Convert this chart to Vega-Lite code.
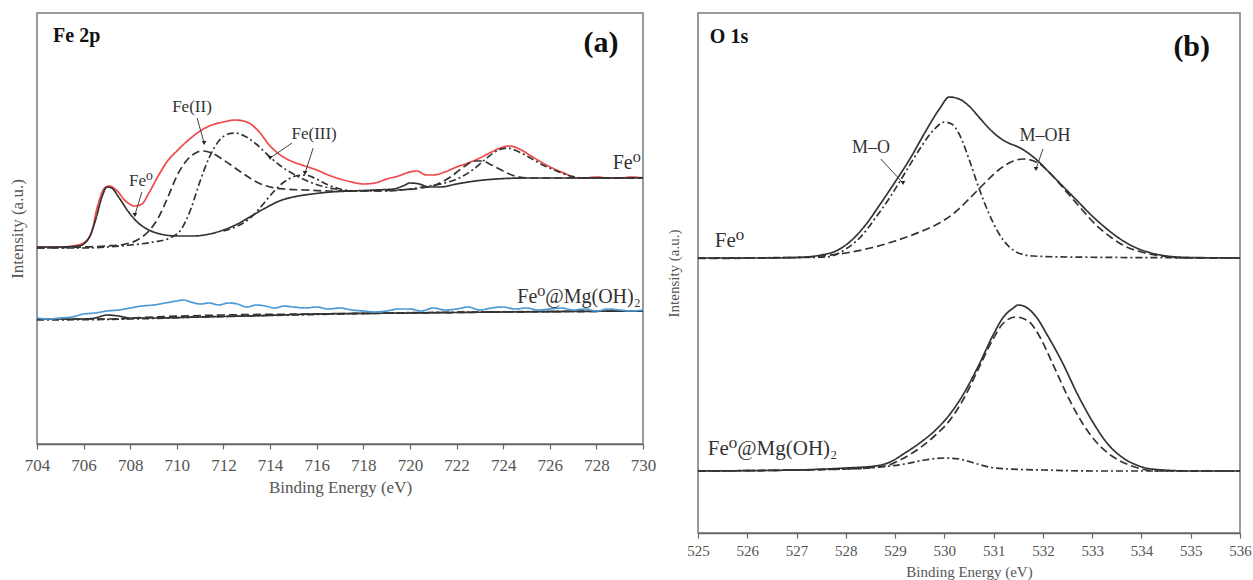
{
  "$schema": "https://vega.github.io/schema/vega-lite/v6.json",
  "padding": {"left": 7, "top": 12, "right": 5, "bottom": 0},
  "bounds": "flush",
  "spacing": 55,
  "config": {
    "font": "Liberation Serif, DejaVu Serif, serif",
    "view": {"stroke": "#7a7a7a", "strokeWidth": 1.5},
    "text": {"font": "Liberation Serif, DejaVu Serif, serif"},
    "axis": {"grid": false, "labelFont": "Liberation Serif, serif", "titleFont": "Liberation Serif, serif", "labelColor": "#555555", "titleColor": "#555555", "titleFontWeight": "normal", "domainColor": "#666666", "tickColor": "#666666", "domainWidth": 1.5, "tickWidth": 1.2}
  },
  "datasets": {
    "a_lines": [
      {"s":"ru","t":"red","x":704,"v":197},{"s":"ru","t":"red","x":705,"v":197},{"s":"ru","t":"red","x":705.5,"v":198},{"s":"ru","t":"red","x":705.9,"v":200},{"s":"ru","t":"red","x":706.3,"v":209},{"s":"ru","t":"red","x":706.6,"v":238},{"s":"ru","t":"red","x":706.9,"v":256},{"s":"ru","t":"red","x":707.1,"v":258},{"s":"ru","t":"red","x":707.4,"v":254},{"s":"ru","t":"red","x":707.8,"v":243},{"s":"ru","t":"red","x":708.2,"v":238},{"s":"ru","t":"red","x":708.5,"v":240},{"s":"ru","t":"red","x":708.8,"v":251},{"s":"ru","t":"red","x":709.2,"v":268},{"s":"ru","t":"red","x":709.6,"v":283},{"s":"ru","t":"red","x":710,"v":293},{"s":"ru","t":"red","x":710.5,"v":304},{"s":"ru","t":"red","x":711,"v":313},{"s":"ru","t":"red","x":711.5,"v":319},{"s":"ru","t":"red","x":712,"v":322},{"s":"ru","t":"red","x":712.5,"v":324},{"s":"ru","t":"red","x":713,"v":322},{"s":"ru","t":"red","x":713.5,"v":313},{"s":"ru","t":"red","x":714,"v":298},{"s":"ru","t":"red","x":714.5,"v":288},{"s":"ru","t":"red","x":715,"v":282},{"s":"ru","t":"red","x":715.5,"v":278},{"s":"ru","t":"red","x":716,"v":274},{"s":"ru","t":"red","x":716.5,"v":269},{"s":"ru","t":"red","x":717,"v":265},{"s":"ru","t":"red","x":717.5,"v":262},{"s":"ru","t":"red","x":718,"v":260},{"s":"ru","t":"red","x":718.5,"v":261},{"s":"ru","t":"red","x":719,"v":265},{"s":"ru","t":"red","x":719.5,"v":268},{"s":"ru","t":"red","x":720,"v":272},{"s":"ru","t":"red","x":720.3,"v":273},{"s":"ru","t":"red","x":720.7,"v":269},{"s":"ru","t":"red","x":721,"v":269},{"s":"ru","t":"red","x":721.5,"v":272},{"s":"ru","t":"red","x":722,"v":277},{"s":"ru","t":"red","x":722.5,"v":281},{"s":"ru","t":"red","x":723,"v":286},{"s":"ru","t":"red","x":723.5,"v":292},{"s":"ru","t":"red","x":724,"v":297},{"s":"ru","t":"red","x":724.3,"v":298},{"s":"ru","t":"red","x":724.7,"v":295},{"s":"ru","t":"red","x":725.2,"v":288},{"s":"ru","t":"red","x":725.7,"v":281},{"s":"ru","t":"red","x":726.2,"v":275},{"s":"ru","t":"red","x":726.7,"v":270},{"s":"ru","t":"red","x":727.1,"v":266},{"s":"ru","t":"red","x":727.5,"v":266},{"s":"ru","t":"red","x":728,"v":267},{"s":"ru","t":"red","x":728.5,"v":266},{"s":"ru","t":"red","x":729,"v":266},{"s":"ru","t":"red","x":729.5,"v":267},{"s":"ru","t":"red","x":730,"v":266},

      {"s":"su","t":"solid","x":704,"v":197},{"s":"su","t":"solid","x":705,"v":197},{"s":"su","t":"solid","x":705.8,"v":198},{"s":"su","t":"solid","x":706.2,"v":205},{"s":"su","t":"solid","x":706.5,"v":223},{"s":"su","t":"solid","x":706.8,"v":248},{"s":"su","t":"solid","x":707,"v":257},{"s":"su","t":"solid","x":707.2,"v":256},{"s":"su","t":"solid","x":707.5,"v":247},{"s":"su","t":"solid","x":707.9,"v":233},{"s":"su","t":"solid","x":708.3,"v":222},{"s":"su","t":"solid","x":708.8,"v":214},{"s":"su","t":"solid","x":709.3,"v":210},{"s":"su","t":"solid","x":710,"v":208},{"s":"su","t":"solid","x":710.7,"v":208},{"s":"su","t":"solid","x":711.4,"v":210},{"s":"su","t":"solid","x":712,"v":214},{"s":"su","t":"solid","x":712.6,"v":220},{"s":"su","t":"solid","x":713.2,"v":228},{"s":"su","t":"solid","x":713.8,"v":236},{"s":"su","t":"solid","x":714.4,"v":243},{"s":"su","t":"solid","x":715,"v":247},{"s":"su","t":"solid","x":715.8,"v":250},{"s":"su","t":"solid","x":716.6,"v":252},{"s":"su","t":"solid","x":717.5,"v":253},{"s":"su","t":"solid","x":718.5,"v":254},{"s":"su","t":"solid","x":719.3,"v":255},{"s":"su","t":"solid","x":719.7,"v":258},{"s":"su","t":"solid","x":720,"v":261},{"s":"su","t":"solid","x":720.4,"v":260},{"s":"su","t":"solid","x":720.8,"v":257},{"s":"su","t":"solid","x":721.3,"v":257},{"s":"su","t":"solid","x":722,"v":260},{"s":"su","t":"solid","x":722.8,"v":263},{"s":"su","t":"solid","x":723.7,"v":265},{"s":"su","t":"solid","x":725,"v":266},{"s":"su","t":"solid","x":730,"v":266},

      {"s":"du","t":"dash","x":704,"v":196},{"s":"du","t":"dash","x":706,"v":197},{"s":"du","t":"dash","x":707,"v":198},{"s":"du","t":"dash","x":707.8,"v":200},{"s":"du","t":"dash","x":708.3,"v":204},{"s":"du","t":"dash","x":708.8,"v":213},{"s":"du","t":"dash","x":709.2,"v":226},{"s":"du","t":"dash","x":709.6,"v":246},{"s":"du","t":"dash","x":710,"v":268},{"s":"du","t":"dash","x":710.4,"v":283},{"s":"du","t":"dash","x":710.8,"v":291},{"s":"du","t":"dash","x":711.1,"v":293},{"s":"du","t":"dash","x":711.5,"v":291},{"s":"du","t":"dash","x":712,"v":284},{"s":"du","t":"dash","x":712.5,"v":276},{"s":"du","t":"dash","x":713,"v":268},{"s":"du","t":"dash","x":713.5,"v":261},{"s":"du","t":"dash","x":714,"v":257},{"s":"du","t":"dash","x":714.6,"v":255},{"s":"du","t":"dash","x":715.5,"v":254},{"s":"du","t":"dash","x":716.5,"v":253},{"s":"du","t":"dash","x":718,"v":253},{"s":"du","t":"dash","x":719.5,"v":254},{"s":"du","t":"dash","x":720.5,"v":256},{"s":"du","t":"dash","x":721.2,"v":260},{"s":"du","t":"dash","x":721.8,"v":268},{"s":"du","t":"dash","x":722.3,"v":277},{"s":"du","t":"dash","x":722.8,"v":283},{"s":"du","t":"dash","x":723.1,"v":283},{"s":"du","t":"dash","x":723.5,"v":279},{"s":"du","t":"dash","x":724,"v":273},{"s":"du","t":"dash","x":724.5,"v":268},{"s":"du","t":"dash","x":725.2,"v":266},{"s":"du","t":"dash","x":730,"v":266},

      {"s":"ddu","t":"dashdot","x":704,"v":196},{"s":"ddu","t":"dashdot","x":706,"v":196},{"s":"ddu","t":"dashdot","x":707,"v":197},{"s":"ddu","t":"dashdot","x":708,"v":199},{"s":"ddu","t":"dashdot","x":709,"v":202},{"s":"ddu","t":"dashdot","x":709.7,"v":206},{"s":"ddu","t":"dashdot","x":710.2,"v":215},{"s":"ddu","t":"dashdot","x":710.6,"v":235},{"s":"ddu","t":"dashdot","x":711,"v":263},{"s":"ddu","t":"dashdot","x":711.4,"v":287},{"s":"ddu","t":"dashdot","x":711.8,"v":303},{"s":"ddu","t":"dashdot","x":712.2,"v":310},{"s":"ddu","t":"dashdot","x":712.5,"v":311},{"s":"ddu","t":"dashdot","x":712.9,"v":308},{"s":"ddu","t":"dashdot","x":713.4,"v":300},{"s":"ddu","t":"dashdot","x":713.9,"v":289},{"s":"ddu","t":"dashdot","x":714.4,"v":279},{"s":"ddu","t":"dashdot","x":715,"v":270},{"s":"ddu","t":"dashdot","x":715.6,"v":263},{"s":"ddu","t":"dashdot","x":716.2,"v":258},{"s":"ddu","t":"dashdot","x":716.8,"v":255},{"s":"ddu","t":"dashdot","x":717.5,"v":253},{"s":"ddu","t":"dashdot","x":719,"v":253},{"s":"ddu","t":"dashdot","x":720,"v":255},{"s":"ddu","t":"dashdot","x":720.8,"v":258},{"s":"ddu","t":"dashdot","x":721.5,"v":261},{"s":"ddu","t":"dashdot","x":722.2,"v":267},{"s":"ddu","t":"dashdot","x":722.8,"v":276},{"s":"ddu","t":"dashdot","x":723.3,"v":286},{"s":"ddu","t":"dashdot","x":723.8,"v":294},{"s":"ddu","t":"dashdot","x":724.2,"v":296},{"s":"ddu","t":"dashdot","x":724.6,"v":293},{"s":"ddu","t":"dashdot","x":725.1,"v":287},{"s":"ddu","t":"dashdot","x":725.7,"v":279},{"s":"ddu","t":"dashdot","x":726.3,"v":273},{"s":"ddu","t":"dashdot","x":726.9,"v":268},{"s":"ddu","t":"dashdot","x":727.4,"v":266},{"s":"ddu","t":"dashdot","x":730,"v":266},

      {"s":"sat","t":"dashdot","x":712,"v":213},{"s":"sat","t":"dashdot","x":712.6,"v":218},{"s":"sat","t":"dashdot","x":713.1,"v":225},{"s":"sat","t":"dashdot","x":713.6,"v":237},{"s":"sat","t":"dashdot","x":714.1,"v":251},{"s":"sat","t":"dashdot","x":714.6,"v":262},{"s":"sat","t":"dashdot","x":715.1,"v":268},{"s":"sat","t":"dashdot","x":715.5,"v":269},{"s":"sat","t":"dashdot","x":715.9,"v":266},{"s":"sat","t":"dashdot","x":716.4,"v":260},{"s":"sat","t":"dashdot","x":717,"v":255},{"s":"sat","t":"dashdot","x":717.6,"v":253},

      {"s":"sl","t":"solid","x":704,"v":125},{"s":"sl","t":"solid","x":706,"v":125},{"s":"sl","t":"solid","x":706.5,"v":126},{"s":"sl","t":"solid","x":707,"v":129},{"s":"sl","t":"solid","x":707.5,"v":128},{"s":"sl","t":"solid","x":708,"v":126},{"s":"sl","t":"solid","x":709,"v":126},{"s":"sl","t":"solid","x":711,"v":127},{"s":"sl","t":"solid","x":713,"v":128},{"s":"sl","t":"solid","x":716,"v":130},{"s":"sl","t":"solid","x":720,"v":131},{"s":"sl","t":"solid","x":724,"v":132},{"s":"sl","t":"solid","x":730,"v":133},
      {"s":"dl","t":"dash","x":704,"v":125},{"s":"dl","t":"dash","x":707,"v":125},{"s":"dl","t":"dash","x":709,"v":127},{"s":"dl","t":"dash","x":712,"v":129},{"s":"dl","t":"dash","x":716,"v":130},{"s":"dl","t":"dash","x":720,"v":131},{"s":"dl","t":"dash","x":724,"v":132},{"s":"dl","t":"dash","x":730,"v":133},
      {"s":"ddl","t":"dashdot","x":704,"v":124},{"s":"ddl","t":"dashdot","x":708,"v":125},{"s":"ddl","t":"dashdot","x":711,"v":127},{"s":"ddl","t":"dashdot","x":715,"v":129},{"s":"ddl","t":"dashdot","x":719,"v":131},{"s":"ddl","t":"dashdot","x":723,"v":132},{"s":"ddl","t":"dashdot","x":730,"v":133},

      {"s":"bl","t":"blue","x":704,"v":126},{"s":"bl","t":"blue","x":704.5,"v":125},{"s":"bl","t":"blue","x":705,"v":126},{"s":"bl","t":"blue","x":705.5,"v":127},{"s":"bl","t":"blue","x":706,"v":130},{"s":"bl","t":"blue","x":706.5,"v":131},{"s":"bl","t":"blue","x":707,"v":133},{"s":"bl","t":"blue","x":707.5,"v":134},{"s":"bl","t":"blue","x":708,"v":136},{"s":"bl","t":"blue","x":708.5,"v":138},{"s":"bl","t":"blue","x":709,"v":139},{"s":"bl","t":"blue","x":709.5,"v":141},{"s":"bl","t":"blue","x":710,"v":143},{"s":"bl","t":"blue","x":710.3,"v":144},{"s":"bl","t":"blue","x":710.6,"v":142},{"s":"bl","t":"blue","x":711,"v":140},{"s":"bl","t":"blue","x":711.4,"v":141},{"s":"bl","t":"blue","x":711.8,"v":139},{"s":"bl","t":"blue","x":712.2,"v":141},{"s":"bl","t":"blue","x":712.6,"v":140},{"s":"bl","t":"blue","x":713,"v":137},{"s":"bl","t":"blue","x":713.4,"v":139},{"s":"bl","t":"blue","x":713.8,"v":138},{"s":"bl","t":"blue","x":714.2,"v":136},{"s":"bl","t":"blue","x":714.6,"v":138},{"s":"bl","t":"blue","x":715,"v":137},{"s":"bl","t":"blue","x":715.5,"v":136},{"s":"bl","t":"blue","x":716,"v":137},{"s":"bl","t":"blue","x":716.5,"v":135},{"s":"bl","t":"blue","x":717,"v":136},{"s":"bl","t":"blue","x":717.5,"v":134},{"s":"bl","t":"blue","x":718,"v":133},{"s":"bl","t":"blue","x":718.5,"v":132},{"s":"bl","t":"blue","x":719,"v":133},{"s":"bl","t":"blue","x":719.5,"v":135},{"s":"bl","t":"blue","x":720,"v":135},{"s":"bl","t":"blue","x":720.5,"v":133},{"s":"bl","t":"blue","x":721,"v":136},{"s":"bl","t":"blue","x":721.5,"v":134},{"s":"bl","t":"blue","x":722,"v":135},{"s":"bl","t":"blue","x":722.5,"v":137},{"s":"bl","t":"blue","x":723,"v":134},{"s":"bl","t":"blue","x":723.5,"v":136},{"s":"bl","t":"blue","x":724,"v":137},{"s":"bl","t":"blue","x":724.5,"v":135},{"s":"bl","t":"blue","x":725,"v":136},{"s":"bl","t":"blue","x":725.5,"v":134},{"s":"bl","t":"blue","x":726,"v":135},{"s":"bl","t":"blue","x":726.5,"v":136},{"s":"bl","t":"blue","x":727,"v":134},{"s":"bl","t":"blue","x":727.5,"v":135},{"s":"bl","t":"blue","x":728,"v":133},{"s":"bl","t":"blue","x":728.5,"v":135},{"s":"bl","t":"blue","x":729,"v":134},{"s":"bl","t":"blue","x":729.5,"v":133},{"s":"bl","t":"blue","x":730,"v":134}
    ],
    "b_lines": [
      {"s":"su","t":"solid","x":525,"v":275},{"s":"su","t":"solid","x":526,"v":275},{"s":"su","t":"solid","x":527,"v":275.5},{"s":"su","t":"solid","x":527.5,"v":278},{"s":"su","t":"solid","x":527.8,"v":282},{"s":"su","t":"solid","x":528.1,"v":292},{"s":"su","t":"solid","x":528.4,"v":308},{"s":"su","t":"solid","x":528.7,"v":329},{"s":"su","t":"solid","x":529,"v":351},{"s":"su","t":"solid","x":529.3,"v":374},{"s":"su","t":"solid","x":529.6,"v":400},{"s":"su","t":"solid","x":529.9,"v":424},{"s":"su","t":"solid","x":530.1,"v":436},{"s":"su","t":"solid","x":530.3,"v":434},{"s":"su","t":"solid","x":530.5,"v":427},{"s":"su","t":"solid","x":530.7,"v":416},{"s":"su","t":"solid","x":530.9,"v":405},{"s":"su","t":"solid","x":531.1,"v":396},{"s":"su","t":"solid","x":531.3,"v":390},{"s":"su","t":"solid","x":531.5,"v":386},{"s":"su","t":"solid","x":531.7,"v":380},{"s":"su","t":"solid","x":531.9,"v":372},{"s":"su","t":"solid","x":532.1,"v":362},{"s":"su","t":"solid","x":532.4,"v":347},{"s":"su","t":"solid","x":532.7,"v":332},{"s":"su","t":"solid","x":533,"v":317},{"s":"su","t":"solid","x":533.3,"v":304},{"s":"su","t":"solid","x":533.6,"v":293},{"s":"su","t":"solid","x":533.9,"v":285},{"s":"su","t":"solid","x":534.2,"v":280},{"s":"su","t":"solid","x":534.6,"v":276.5},{"s":"su","t":"solid","x":535,"v":275.5},{"s":"su","t":"solid","x":536,"v":275},

      {"s":"mo","t":"dashdot","x":525,"v":275},{"s":"mo","t":"dashdot","x":527,"v":275.5},{"s":"mo","t":"dashdot","x":527.6,"v":276},{"s":"mo","t":"dashdot","x":528,"v":284},{"s":"mo","t":"dashdot","x":528.3,"v":296},{"s":"mo","t":"dashdot","x":528.6,"v":315},{"s":"mo","t":"dashdot","x":528.9,"v":336},{"s":"mo","t":"dashdot","x":529.2,"v":360},{"s":"mo","t":"dashdot","x":529.5,"v":384},{"s":"mo","t":"dashdot","x":529.8,"v":404},{"s":"mo","t":"dashdot","x":530,"v":411},{"s":"mo","t":"dashdot","x":530.15,"v":409},{"s":"mo","t":"dashdot","x":530.3,"v":399},{"s":"mo","t":"dashdot","x":530.5,"v":374},{"s":"mo","t":"dashdot","x":530.7,"v":345},{"s":"mo","t":"dashdot","x":530.9,"v":320},{"s":"mo","t":"dashdot","x":531.1,"v":300},{"s":"mo","t":"dashdot","x":531.3,"v":287},{"s":"mo","t":"dashdot","x":531.5,"v":280},{"s":"mo","t":"dashdot","x":531.8,"v":277},{"s":"mo","t":"dashdot","x":532.5,"v":276},{"s":"mo","t":"dashdot","x":536,"v":275},

      {"s":"moh","t":"dash","x":525,"v":274.5},{"s":"moh","t":"dash","x":527,"v":275.5},{"s":"moh","t":"dash","x":527.5,"v":277},{"s":"moh","t":"dash","x":528,"v":280},{"s":"moh","t":"dash","x":528.5,"v":285},{"s":"moh","t":"dash","x":529,"v":292},{"s":"moh","t":"dash","x":529.5,"v":301},{"s":"moh","t":"dash","x":529.9,"v":310},{"s":"moh","t":"dash","x":530.2,"v":320},{"s":"moh","t":"dash","x":530.5,"v":334},{"s":"moh","t":"dash","x":530.8,"v":349},{"s":"moh","t":"dash","x":531.1,"v":363},{"s":"moh","t":"dash","x":531.4,"v":372},{"s":"moh","t":"dash","x":531.6,"v":374},{"s":"moh","t":"dash","x":531.9,"v":370},{"s":"moh","t":"dash","x":532.2,"v":357},{"s":"moh","t":"dash","x":532.5,"v":340},{"s":"moh","t":"dash","x":532.8,"v":323},{"s":"moh","t":"dash","x":533.1,"v":307},{"s":"moh","t":"dash","x":533.4,"v":295},{"s":"moh","t":"dash","x":533.7,"v":286},{"s":"moh","t":"dash","x":534,"v":281},{"s":"moh","t":"dash","x":534.4,"v":277},{"s":"moh","t":"dash","x":535,"v":275},{"s":"moh","t":"dash","x":536,"v":275},

      {"s":"sl","t":"solid","x":525,"v":62},{"s":"sl","t":"solid","x":527,"v":63},{"s":"sl","t":"solid","x":528,"v":65},{"s":"sl","t":"solid","x":528.6,"v":67},{"s":"sl","t":"solid","x":528.9,"v":71},{"s":"sl","t":"solid","x":529.2,"v":80},{"s":"sl","t":"solid","x":529.5,"v":90},{"s":"sl","t":"solid","x":529.8,"v":102},{"s":"sl","t":"solid","x":530.1,"v":118},{"s":"sl","t":"solid","x":530.4,"v":140},{"s":"sl","t":"solid","x":530.7,"v":168},{"s":"sl","t":"solid","x":531,"v":199},{"s":"sl","t":"solid","x":531.2,"v":216},{"s":"sl","t":"solid","x":531.4,"v":225},{"s":"sl","t":"solid","x":531.5,"v":228},{"s":"sl","t":"solid","x":531.65,"v":226},{"s":"sl","t":"solid","x":531.85,"v":217},{"s":"sl","t":"solid","x":532.1,"v":197},{"s":"sl","t":"solid","x":532.4,"v":170},{"s":"sl","t":"solid","x":532.7,"v":139},{"s":"sl","t":"solid","x":533,"v":112},{"s":"sl","t":"solid","x":533.3,"v":90},{"s":"sl","t":"solid","x":533.6,"v":76},{"s":"sl","t":"solid","x":533.9,"v":68},{"s":"sl","t":"solid","x":534.2,"v":64},{"s":"sl","t":"solid","x":535,"v":62},{"s":"sl","t":"solid","x":536,"v":62},

      {"s":"dl","t":"dash","x":525,"v":62},{"s":"dl","t":"dash","x":528,"v":64},{"s":"dl","t":"dash","x":528.8,"v":67},{"s":"dl","t":"dash","x":529.1,"v":73},{"s":"dl","t":"dash","x":529.5,"v":85},{"s":"dl","t":"dash","x":529.8,"v":97},{"s":"dl","t":"dash","x":530.1,"v":112},{"s":"dl","t":"dash","x":530.4,"v":135},{"s":"dl","t":"dash","x":530.7,"v":165},{"s":"dl","t":"dash","x":531,"v":195},{"s":"dl","t":"dash","x":531.2,"v":210},{"s":"dl","t":"dash","x":531.45,"v":216},{"s":"dl","t":"dash","x":531.7,"v":212},{"s":"dl","t":"dash","x":531.95,"v":195},{"s":"dl","t":"dash","x":532.2,"v":169},{"s":"dl","t":"dash","x":532.5,"v":137},{"s":"dl","t":"dash","x":532.8,"v":110},{"s":"dl","t":"dash","x":533.1,"v":90},{"s":"dl","t":"dash","x":533.4,"v":77},{"s":"dl","t":"dash","x":533.7,"v":69},{"s":"dl","t":"dash","x":534,"v":64},{"s":"dl","t":"dash","x":534.3,"v":62},{"s":"dl","t":"dash","x":536,"v":62},

      {"s":"ddl","t":"dashdot","x":525,"v":62},{"s":"ddl","t":"dashdot","x":528,"v":64},{"s":"ddl","t":"dashdot","x":528.7,"v":66},{"s":"ddl","t":"dashdot","x":529.2,"v":69},{"s":"ddl","t":"dashdot","x":529.6,"v":73},{"s":"ddl","t":"dashdot","x":530,"v":75},{"s":"ddl","t":"dashdot","x":530.3,"v":74},{"s":"ddl","t":"dashdot","x":530.6,"v":70},{"s":"ddl","t":"dashdot","x":530.9,"v":66},{"s":"ddl","t":"dashdot","x":531.3,"v":64},{"s":"ddl","t":"dashdot","x":532,"v":63},{"s":"ddl","t":"dashdot","x":533,"v":62},{"s":"ddl","t":"dashdot","x":536,"v":62}
    ],
    "labels": [
      {"p":"a","k":"head","label":"Fe 2p","x":704.69,"v":408},
      {"p":"a","k":"letter","label":"(a)","x":728.2,"v":401},
      {"p":"a","k":"center","label":"Fe(II)","x":710.65,"v":337},
      {"p":"a","k":"center","label":"Fe(III)","x":715.89,"v":310},
      {"p":"a","k":"center","label":"Fe⁰","x":708.46,"v":263},
      {"p":"a","k":"right","label":"Fe⁰","x":729.9,"v":281},
      {"p":"a","k":"right","label":"Fe⁰@Mg(OH)₂","x":729.9,"v":147},
      {"p":"b","k":"head","label":"O 1s","x":525.24,"v":496},
      {"p":"b","k":"letter","label":"(b)","x":535.02,"v":486},
      {"p":"b","k":"center","label":"M–O","x":528.51,"v":385},
      {"p":"b","k":"center","label":"M–OH","x":532.04,"v":397},
      {"p":"b","k":"left","label":"Fe⁰","x":525.34,"v":292},
      {"p":"b","k":"left","label":"Fe⁰@Mg(OH)₂","x":525.2,"v":84}
    ],
    "arrows": [
      {"p":"a","x":710.87,"v":326,"x2":711.17,"v2":301},
      {"p":"a","x":714.94,"v":301,"x2":714.0,"v2":286},
      {"p":"a","x":715.85,"v":296,"x2":715.5,"v2":271},
      {"p":"a","x":708.5,"v":252,"x2":708.2,"v2":229},
      {"p":"b","x":528.71,"v":374,"x2":529.16,"v2":350},
      {"p":"b","x":532.0,"v":384,"x2":531.86,"v2":364}
    ]
  },
  "hconcat": [
    {
      "width": 606,
      "height": 431,
      "encoding": {
        "x": {"field": "x", "type": "quantitative", "scale": {"domain": [704, 730], "nice": false, "zero": false},
              "axis": {"title": "Binding Energy (eV)", "values": [704,706,708,710,712,714,716,718,720,722,724,726,728,730], "tickSize": 5, "labelPadding": 8, "titlePadding": 6, "labelFontSize": 17, "titleFontSize": 17, "labelFlush": false, "labelOverlap": false}},
        "y": {"field": "v", "type": "quantitative", "scale": {"domain": [0, 431], "nice": false, "zero": false},
              "axis": {"title": "Intensity (a.u.)", "labels": false, "ticks": false, "domain": false, "titlePadding": 11, "titleFontSize": 17}}
      },
      "layer": [
        {
          "data": {"name": "a_lines"},
          "mark": {"type": "line", "strokeWidth": 1.7, "interpolate": "monotone"},
          "encoding": {
            "detail": {"field": "s"},
            "color": {"field": "t", "type": "nominal", "legend": null, "scale": {"domain": ["red","blue","solid","dash","dashdot"], "range": ["#f04848","#4a9bd6","#333333","#333333","#333333"]}},
            "strokeDash": {"field": "t", "type": "nominal", "legend": null, "scale": {"domain": ["red","blue","solid","dash","dashdot"], "range": [[1,0],[1,0],[1,0],[8,4],[7,3,2,3]]}}
          }
        },
        {
          "data": {"name": "arrows"},
          "transform": [{"filter": "datum.p === 'a'"}],
          "mark": {"type": "rule", "color": "#444444", "strokeWidth": 1},
          "encoding": {"x2": {"field": "x2"}, "y2": {"field": "v2"}}
        },
        {
          "data": {"name": "arrows"},
          "transform": [{"filter": "datum.p === 'a'"}],
          "mark": {"type": "point", "shape": "triangle-down", "filled": true, "size": 22, "color": "#222222", "opacity": 1},
          "encoding": {"x": {"field": "x2", "type": "quantitative"}, "y": {"field": "v2", "type": "quantitative"}}
        },
        {
          "data": {"name": "labels"},
          "transform": [{"filter": "datum.p === 'a' && datum.k === 'head'"}],
          "mark": {"type": "text", "align": "left", "baseline": "middle", "fontSize": 20, "fontWeight": "bold", "color": "#111111"},
          "encoding": {"text": {"field": "label"}}
        },
        {
          "data": {"name": "labels"},
          "transform": [{"filter": "datum.p === 'a' && datum.k === 'letter'"}],
          "mark": {"type": "text", "align": "center", "baseline": "middle", "fontSize": 30, "fontWeight": "bold", "color": "#111111"},
          "encoding": {"text": {"field": "label"}}
        },
        {
          "data": {"name": "labels"},
          "transform": [{"filter": "datum.p === 'a' && datum.k === 'center'"}],
          "mark": {"type": "text", "align": "center", "baseline": "middle", "fontSize": 17, "color": "#333333"},
          "encoding": {"text": {"field": "label"}}
        },
        {
          "data": {"name": "labels"},
          "transform": [{"filter": "datum.p === 'a' && datum.k === 'right'"}],
          "mark": {"type": "text", "align": "right", "baseline": "middle", "fontSize": 20, "color": "#333333"},
          "encoding": {"text": {"field": "label"}}
        }
      ]
    },
    {
      "width": 542,
      "height": 520,
      "encoding": {
        "x": {"field": "x", "type": "quantitative", "scale": {"domain": [525, 536], "nice": false, "zero": false},
              "axis": {"title": "Binding Energy (eV)", "values": [525,526,527,528,529,530,531,532,533,534,535,536], "tickSize": 5, "labelPadding": 5, "titlePadding": 6, "labelFontSize": 15, "titleFontSize": 15, "labelFlush": false, "labelOverlap": false}},
        "y": {"field": "v", "type": "quantitative", "scale": {"domain": [0, 520], "nice": false, "zero": false},
              "axis": {"title": "Intensity (a.u.)", "labels": false, "ticks": false, "domain": false, "titlePadding": 17, "titleFontSize": 15}}
      },
      "layer": [
        {
          "data": {"name": "b_lines"},
          "mark": {"type": "line", "strokeWidth": 1.7, "interpolate": "monotone"},
          "encoding": {
            "detail": {"field": "s"},
            "color": {"field": "t", "type": "nominal", "legend": null, "scale": {"domain": ["red","blue","solid","dash","dashdot"], "range": ["#f04848","#4a9bd6","#333333","#333333","#333333"]}},
            "strokeDash": {"field": "t", "type": "nominal", "legend": null, "scale": {"domain": ["red","blue","solid","dash","dashdot"], "range": [[1,0],[1,0],[1,0],[8,4],[7,3,2,3]]}}
          }
        },
        {
          "data": {"name": "arrows"},
          "transform": [{"filter": "datum.p === 'b'"}],
          "mark": {"type": "rule", "color": "#444444", "strokeWidth": 1},
          "encoding": {"x2": {"field": "x2"}, "y2": {"field": "v2"}}
        },
        {
          "data": {"name": "arrows"},
          "transform": [{"filter": "datum.p === 'b'"}],
          "mark": {"type": "point", "shape": "triangle-down", "filled": true, "size": 22, "color": "#222222", "opacity": 1},
          "encoding": {"x": {"field": "x2", "type": "quantitative"}, "y": {"field": "v2", "type": "quantitative"}}
        },
        {
          "data": {"name": "labels"},
          "transform": [{"filter": "datum.p === 'b' && datum.k === 'head'"}],
          "mark": {"type": "text", "align": "left", "baseline": "middle", "fontSize": 20, "fontWeight": "bold", "color": "#111111"},
          "encoding": {"text": {"field": "label"}}
        },
        {
          "data": {"name": "labels"},
          "transform": [{"filter": "datum.p === 'b' && datum.k === 'letter'"}],
          "mark": {"type": "text", "align": "center", "baseline": "middle", "fontSize": 30, "fontWeight": "bold", "color": "#111111"},
          "encoding": {"text": {"field": "label"}}
        },
        {
          "data": {"name": "labels"},
          "transform": [{"filter": "datum.p === 'b' && datum.k === 'center'"}],
          "mark": {"type": "text", "align": "center", "baseline": "middle", "fontSize": 18, "color": "#333333"},
          "encoding": {"text": {"field": "label"}}
        },
        {
          "data": {"name": "labels"},
          "transform": [{"filter": "datum.p === 'b' && datum.k === 'left'"}],
          "mark": {"type": "text", "align": "left", "baseline": "middle", "fontSize": 21, "color": "#333333"},
          "encoding": {"text": {"field": "label"}}
        }
      ]
    }
  ]
}
